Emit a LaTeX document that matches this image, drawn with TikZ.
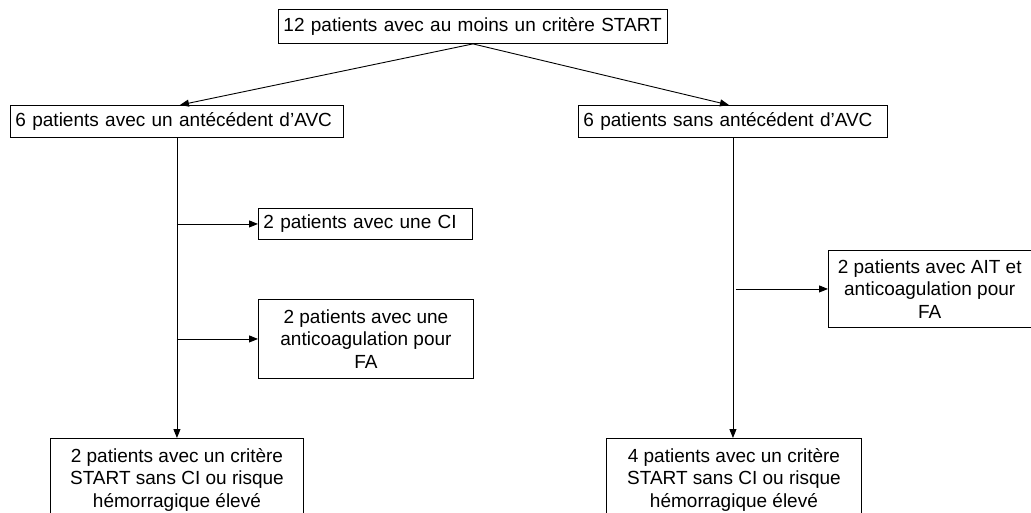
\documentclass[tikz,border=0pt]{standalone}
\usepackage{fontspec}
\setmainfont{Liberation Sans}
\usetikzlibrary{arrows.meta,calc}
\begin{document}
\begin{tikzpicture}[x=1pt,y=-1pt,
  box/.style={draw=black,line width=0.9pt,rectangle,inner ysep=0pt,anchor=north west,font=\fontsize{19}{22.5}\selectfont},
  lbox/.style={box,align=left,inner xsep=5pt},
  cbox/.style={box,align=center,inner xsep=0pt},
  arr/.style={line width=0.9pt,-{Triangle[length=9pt,width=7pt]}},
  ln/.style={line width=0.9pt}]
\useasboundingbox (0,0) rectangle (1031,512);
\clip (0,0) rectangle (1031,512);

\node[lbox,minimum height=34pt,text width=379pt] (top) at (278,9) {12 patients avec au moins un critère START};
\node[lbox,minimum height=32pt,text width=323pt] (L1) at (10,105) {6 patients avec un antécédent d’AVC};
\node[lbox,minimum height=32pt,text width=299pt] (R1) at (578,105) {6 patients sans antécédent d’AVC};
\node[lbox,minimum height=31pt,text width=204pt] (CI) at (258,208) {2 patients avec une CI};
\node[cbox,minimum width=215pt,minimum height=79pt] (AC) at (258,299) {2 patients avec une\\anticoagulation pour\\FA};
\node[cbox,minimum width=202.5pt,minimum height=77pt] (AIT) at (828,250) {2 patients avec AIT et\\anticoagulation pour\\FA};
\node[cbox,minimum width=253pt,minimum height=83pt] (BL) at (50,438) {2 patients avec un critère\\START sans CI ou risque\\hémorragique élevé};
\node[cbox,minimum width=255pt,minimum height=83pt] (BR) at (606,438) {4 patients avec un critère\\START sans CI ou risque\\hémorragique élevé};

\draw[arr] (top.south) -- ($(L1.north)+(3,0)$);
\draw[arr] (top.south) -- ($(R1.north)+(-4,0)$);

\draw[arr] (L1.south) -- (BL.north);
\draw[arr] (L1.south |- CI.west) -- (CI.west);
\draw[arr] (L1.south |- AC.west) -- (AC.west);

\draw[arr] (R1.south) -- (R1.south |- BR.north);
\coordinate (rb) at ($(R1.south |- AIT.west)+(3,0)$);
\draw[arr] (rb) -- (AIT.west);
\end{tikzpicture}
\end{document}
